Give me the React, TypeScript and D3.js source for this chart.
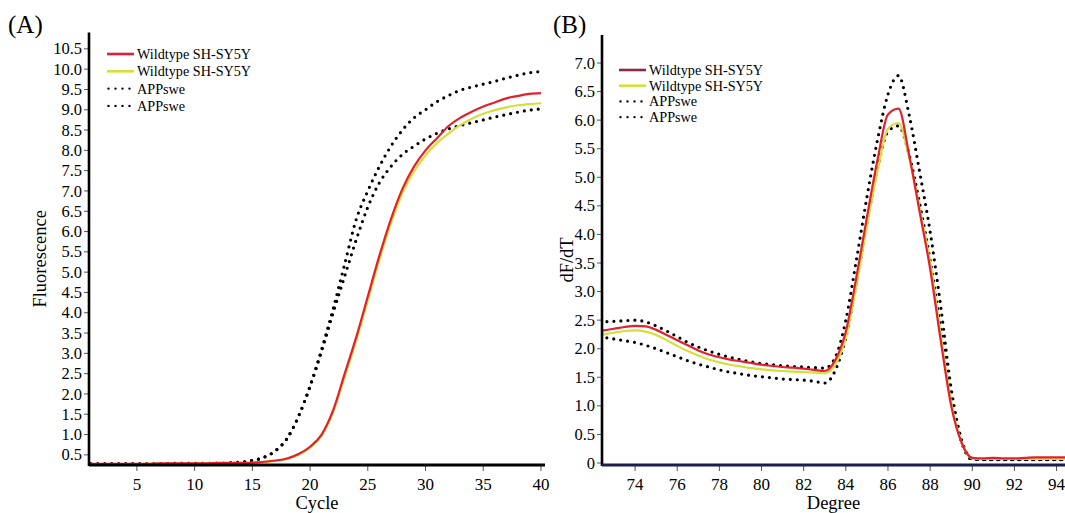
import * as d3 from 'd3'

// amplification (panel A)
const cycles = [1, 2, 3, 4, 5, 6, 7, 8, 9, 10, 11, 12, 13, 14, 15, 16, 17, 18, 19, 20,
  21, 22, 23, 24, 25, 26, 27, 28, 29, 30, 31, 32, 33, 34, 35, 36, 37, 38, 39, 40]
const ampWild1 = [0.28, 0.28, 0.28, 0.28, 0.28, 0.28, 0.29, 0.29, 0.29, 0.29, 0.29, 0.30, 0.30, 0.30,
  0.31, 0.33, 0.36, 0.41, 0.52, 0.70, 1.0, 1.6, 2.5, 3.4, 4.4, 5.4, 6.3, 7.05, 7.6, 8.0,
  8.3, 8.6, 8.8, 8.95, 9.08, 9.18, 9.28, 9.34, 9.39, 9.41]
const ampWild2 = [0.27, 0.27, 0.27, 0.27, 0.27, 0.28, 0.28, 0.28, 0.28, 0.28, 0.29, 0.29, 0.29, 0.29,
  0.30, 0.32, 0.35, 0.40, 0.50, 0.68, 0.97, 1.55, 2.42, 3.32, 4.3, 5.3, 6.2, 6.95, 7.48, 7.88,
  8.18, 8.42, 8.62, 8.78, 8.9, 8.99, 9.06, 9.11, 9.14, 9.16]
const ampApp1 = [0.28, 0.28, 0.28, 0.28, 0.28, 0.28, 0.28, 0.29, 0.29, 0.29, 0.29, 0.29, 0.30, 0.32,
  0.36, 0.44, 0.6, 0.9, 1.45, 2.2, 3.1, 4.1, 5.2, 6.3, 7.0, 7.6, 8.1, 8.5, 8.8, 9.0,
  9.2, 9.35, 9.48, 9.56, 9.63, 9.7, 9.78, 9.85, 9.91, 9.94]
const ampApp2 = [0.28, 0.28, 0.28, 0.28, 0.28, 0.28, 0.28, 0.29, 0.29, 0.29, 0.29, 0.29, 0.30, 0.32,
  0.36, 0.44, 0.6, 0.9, 1.45, 2.18, 3.05, 4.0, 4.9, 5.8, 6.6, 7.2, 7.6, 7.9, 8.1, 8.28,
  8.42, 8.53, 8.61, 8.68, 8.75, 8.82, 8.88, 8.94, 8.99, 9.02]

// melt curve (panel B)
const degrees = [72, 72.5, 73, 73.5, 74, 74.5, 75, 75.5, 76, 76.5, 77, 77.5, 78, 78.5, 79, 79.5,
  80, 80.5, 81, 81.5, 82, 82.5, 83, 83.5, 84, 84.5, 85, 85.5, 86, 86.5, 87, 87.5,
  88, 88.5, 89, 89.5, 90, 90.5, 91, 91.5, 92, 92.5, 93, 93.5, 94, 94.5]
const meltWild1 = [2.27, 2.32, 2.35, 2.38, 2.40, 2.39, 2.33, 2.24, 2.15, 2.06, 1.97, 1.90, 1.85, 1.81, 1.78, 1.75,
  1.72, 1.70, 1.68, 1.67, 1.65, 1.63, 1.61, 1.80, 2.30, 3.25, 4.30, 5.30, 6.10, 6.20, 5.40, 4.40,
  3.40, 2.15, 1.00, 0.35, 0.09, 0.08, 0.09, 0.08, 0.08, 0.09, 0.10, 0.10, 0.10, 0.10]
const meltWild2 = [2.20, 2.25, 2.28, 2.31, 2.32, 2.30, 2.24, 2.15, 2.05, 1.96, 1.88, 1.81, 1.76, 1.72, 1.69, 1.66,
  1.64, 1.62, 1.61, 1.60, 1.59, 1.58, 1.57, 1.72, 2.20, 3.10, 4.15, 5.10, 5.85, 5.95, 5.35, 4.45,
  3.50, 2.25, 1.05, 0.35, 0.08, 0.07, 0.07, 0.07, 0.07, 0.07, 0.07, 0.07, 0.07, 0.07]
const meltApp1 = [2.46, 2.47, 2.48, 2.49, 2.50, 2.47, 2.40, 2.31, 2.21, 2.11, 2.03, 1.96, 1.90, 1.85, 1.81, 1.77,
  1.74, 1.72, 1.70, 1.69, 1.68, 1.67, 1.66, 1.85, 2.50, 3.55, 4.65, 5.65, 6.45, 6.78, 6.10, 5.10,
  4.05, 2.75, 1.30, 0.40, 0.08, 0.06, 0.06, 0.06, 0.06, 0.06, 0.06, 0.06, 0.06, 0.06]
const meltApp2 = [2.22, 2.20, 2.17, 2.14, 2.11, 2.06, 2.00, 1.93, 1.86, 1.79, 1.73, 1.68, 1.63, 1.59, 1.56, 1.53,
  1.51, 1.49, 1.47, 1.46, 1.45, 1.43, 1.40, 1.62, 2.20, 3.15, 4.20, 5.15, 5.80, 5.90, 5.40, 4.55,
  3.55, 2.35, 1.10, 0.35, 0.06, 0.06, 0.06, 0.06, 0.06, 0.06, 0.06, 0.06, 0.06, 0.06]

const legendLabels = ['Wildtype SH-SY5Y', 'Wildtype SH-SY5Y', 'APPswe', 'APPswe']
const ampXTicks = [5, 10, 15, 20, 25, 30, 35, 40]
const ampYTicks = [0.5, 1, 1.5, 2, 2.5, 3, 3.5, 4, 4.5, 5, 5.5, 6, 6.5, 7, 7.5, 8, 8.5, 9, 9.5, 10, 10.5]
const meltXTicks = [74, 76, 78, 80, 82, 84, 86, 88, 90, 92, 94]
const meltYTicks = [0, 0.5, 1, 1.5, 2, 2.5, 3, 3.5, 4, 4.5, 5, 5.5, 6, 6.5, 7]

const RED = '#e3202e'
const YELLOW = '#d6df3a'
const FONT = '"Liberation Serif", "Times New Roman", serif'

const dotted = { stroke: '#000', strokeWidth: 3.2, strokeDasharray: '0 7', strokeLinecap: 'round' as const }

function Panel({ id, xs, series, xScale, yScale, xTicks, yTicks, yFmt, xLabel, yLabel, yLabelX,
  legend, letter, letterX, xAxisColor }) {
  const [x0, x1] = xScale.range()
  const [y0, y1] = yScale.range()
  const line = (vals) => d3.line().x((_, i) => xScale(xs[i])).y(d => yScale(d)).curve(d3.curveMonotoneX)(vals)
  return (
    <g fontFamily={FONT}>
      <defs>
        <clipPath id={id}><rect x={x0} y={y1} width={x1 - x0} height={y0 - y1} /></clipPath>
      </defs>
      <text x={letterX} y={33} fontSize={25}>{letter}</text>
      {/* y ticks */}
      {yTicks.map(t => (
        <g key={t} transform={`translate(${x0},${yScale(t)})`}>
          <line x1={-5} x2={0} stroke="#555" strokeWidth={1} />
          <text x={-7} dy="0.34em" textAnchor="end" fontSize={16.5}>{yFmt(t)}</text>
        </g>
      ))}
      {xTicks.map(t => (
        <g key={t} transform={`translate(${xScale(t)},${y0})`}>
          <line y1={0} y2={6} stroke="#555" strokeWidth={1} />
          <text y={25} textAnchor="middle" fontSize={17}>{t}</text>
        </g>
      ))}
      <g clipPath={`url(#${id})`} fill="none">
        <path d={line(series[2])} {...dotted} />
        <path d={line(series[3])} {...dotted} />
        <path d={line(series[1])} stroke={YELLOW} strokeWidth={2.2} />
        <path d={line(series[0])} stroke={RED} strokeWidth={2.2} />
      </g>
      <line x1={x0} x2={x0} y1={y1} y2={y0 + 1} stroke="#000" strokeWidth={2.6} />
      <line x1={x0} x2={x1} y1={y0} y2={y0} stroke={xAxisColor} strokeWidth={3} />
      <text x={(x0 + x1) / 2} y={509} textAnchor="middle" fontSize={18.5}>{xLabel}</text>
      <text transform={`translate(${yLabelX},${(y0 + y1) / 2 + 10}) rotate(-90)`} textAnchor="middle" fontSize={18.5}>{yLabel}</text>
      {/* legend */}
      {legendLabels.map((lab, i) => {
        const ly = legend.y + i * legend.dy
        return (
          <g key={i}>
            {i < 2
              ? <line x1={legend.x} x2={legend.x + 27} y1={ly} y2={ly} stroke={legend.colors[i]} strokeWidth={2.6} />
              : <line x1={legend.x + 1.5} x2={legend.x + 25} y1={ly} y2={ly} stroke="#000" strokeWidth={2.4}
                  strokeDasharray="0 7" strokeLinecap="round" />}
            <text x={legend.x + 30} y={ly + 5} fontSize={14.2}>{lab}</text>
          </g>
        )
      })}
    </g>
  )
}

export default function App() {
  const ampX = d3.scaleLinear().domain([0.85, 40.35]).range([89, 545])
  const ampY = d3.scaleLinear().domain([0.25, 10.9]).range([465, 32.6])
  const meltX = d3.scaleLinear().domain([72.43, 94.4]).range([602, 1065])
  const meltY = d3.scaleLinear().domain([-0.035, 7.49]).range([465, 35])

  return (
    <svg width={1065} height={513} style={{ position: 'absolute', left: 0, top: 0, background: '#fff' }}>
      <Panel id="clipA" xs={cycles} series={[ampWild1, ampWild2, ampApp1, ampApp2]}
        xScale={ampX} yScale={ampY} xTicks={ampXTicks} yTicks={ampYTicks}
        yFmt={d => d.toFixed(1)} xLabel="Cycle" yLabel="Fluorescence" yLabelX={46}
        legend={{ x: 107, y: 54, dy: 17.3, colors: ['#e0203a', YELLOW] }}
        letter="(A)" letterX={8} xAxisColor="#000" />
      <Panel id="clipB" xs={degrees} series={[meltWild1, meltWild2, meltApp1, meltApp2]}
        xScale={meltX} yScale={meltY} xTicks={meltXTicks} yTicks={meltYTicks}
        yFmt={d => (d === 0 ? '0' : d.toFixed(1))} xLabel="Degree" yLabel="dF/dT" yLabelX={573}
        legend={{ x: 619, y: 70, dy: 15.7, colors: ['#8a2a45', YELLOW] }}
        letter="(B)" letterX={553} xAxisColor="#1b1f4a" />
    </svg>
  )
}
